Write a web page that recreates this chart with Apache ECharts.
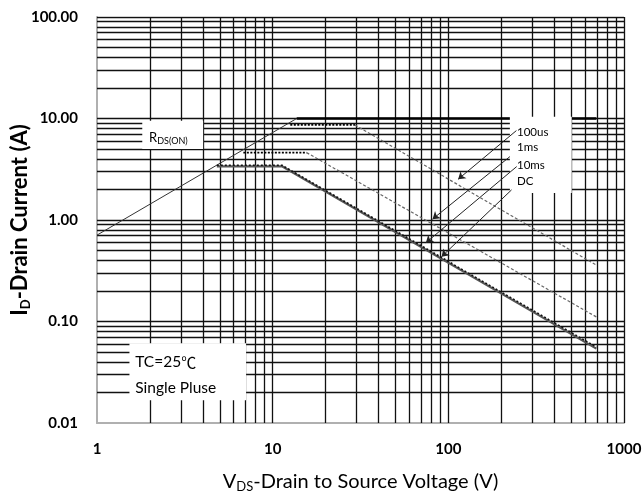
<!DOCTYPE html>
<html>
<head>
<meta charset="utf-8">
<script src="https://cdn.jsdelivr.net/npm/echarts@6/dist/echarts.min.js"></script>
<style>html,body{margin:0;padding:0;background:#fff}#c{width:643px;height:500px}</style>
</head>
<body>
<div id="c"></div>
<script>
// ---- data (V in volts, I in amperes) ----
const xTicks = [1, 10, 100, 1000];
const yTicks = [0.01, 0.1, 1, 10, 100];
const gridX = [2,3,4,5,6,7,8,9,10,20,30,40,50,60,70,80,90,100,200,300,400,500,600,700,800,900,1000];
const gridY = [0.02,0.03,0.04,0.05,0.06,0.07,0.08,0.09,0.1,0.2,0.3,0.4,0.5,0.6,0.7,0.8,0.9,1,2,3,4,5,6,7,8,9,10,20,30,40,50,60,70,80,90,100];
const rdsOn      = [[1, 0.71], [13.7, 10]];
const limit10    = [[13.7, 10], [696, 10]];
const us100Flat  = [[12.6, 8.65], [29.4, 8.65]];
const us100Slope = [[29.4, 8.65], [696, 0.36]];
const ms1Flat    = [[6.81, 4.61], [15.6, 4.61]];
const ms1Slope   = [[15.6, 4.61], [696, 0.111]];
const ms10       = [[4.81, 3.46], [11.3, 3.46], [696, 0.056]];
const dc         = [[4.81, 3.38], [11.3, 3.38], [696, 0.054]];
// arrows: [from, to]
const arrows = [
  [[244, 7.6], [113.7, 2.52]],
  [[224, 4.21], [81.3, 1.02]],
  [[245, 3.36], [74.5, 0.597]],
  [[229, 1.98], [91.5, 0.435]]
];
// white label boxes: [x1, y1, x2, y2]
const boxes = [
  [1.81, 9.48, 4.02, 5.02],
  [224, 10.4, 504, 1.85],
  [1.53, 0.061, 7.06, 0.0168]
];
const legendLabels = ['100us', '1ms', '10ms', 'DC'];
const legendPos = [[246, 7.33], [246, 5.22], [246, 3.49], [246, 2.39]];

// ---- build ----
const FONT = 'Lato';
const gridSegs = [];
gridX.forEach(v => gridSegs.push({coords: [[v, 0.01], [v, 100]]}));
gridY.forEach(v => gridSegs.push({coords: [[1, v], [1000, v]]}));

const textPoints = [
  {coord: [1.98, 6.44], label: {formatter: '{m|R}{s|DS(ON)}'}},
  {coord: [1.65, 0.040], label: {formatter: '{b|TC=25}{c|℃}'}},
  {coord: [1.65, 0.022], label: {formatter: '{b|Single Pluse}'}}
];
legendLabels.forEach((t, i) => textPoints.push({coord: legendPos[i], label: {formatter: '{l|' + t + '}'}}));

function line(data, style) {
  return {type: 'line', z: 3, silent: true, data: data, symbol: 'none', lineStyle: style};
}

const chart = echarts.init(document.getElementById('c'));
chart.setOption({
  animation: false,
  backgroundColor: '#fff',
  grid: {left: 97, right: 19, top: 17, bottom: 77, containLabel: false, outerBoundsMode: 'none'},
  xAxis: {
    type: 'log', logBase: 10, min: 1, max: 1000, splitNumber: 3,
    axisLine: {show: true, lineStyle: {color: '#b0b0b0', width: 2}},
    axisTick: {show: false},
    splitLine: {show: false},
    axisLabel: {color: '#000', fontFamily: FONT, fontWeight: 'bold', fontSize: 15, margin: 19,
      formatter: v => String(Math.round(v))},
    name: '{m|V}{s|DS}{m|-Drain to Source Voltage (V)}',
    nameLocation: 'middle', nameGap: 47, nameMoveOverlap: false,
    nameTextStyle: {rich: {
      m: {fontFamily: FONT, fontSize: 20, color: '#000', fontWeight: 'normal'},
      s: {fontFamily: FONT, fontSize: 13, color: '#000', padding: [10, 0, 0, 0]}
    }}
  },
  yAxis: {
    type: 'log', logBase: 10, min: 0.01, max: 100, splitNumber: 4,
    axisLine: {show: true, lineStyle: {color: '#b0b0b0', width: 2}},
    axisTick: {show: false},
    splitLine: {show: false},
    axisLabel: {color: '#000', fontFamily: FONT, fontWeight: 'bold', fontSize: 15, margin: 19,
      formatter: v => Number(v).toFixed(2)},
    name: '{m|I}{s|D}{m|-Drain Current (A)}',
    nameLocation: 'middle', nameGap: 65, nameMoveOverlap: false,
    nameTextStyle: {rich: {
      m: {fontFamily: FONT, fontSize: 22, color: '#000', fontWeight: 'bold'},
      s: {fontFamily: FONT, fontSize: 13, color: '#000', fontWeight: 'bold', padding: [11, 0, 0, 0]}
    }}
  },
  series: [
    {
      type: 'lines', coordinateSystem: 'cartesian2d', z: 1, silent: true,
      data: gridSegs, symbol: 'none',
      lineStyle: {color: '#111', width: 1.3, opacity: 1}
    },
    line(rdsOn, {color: '#333', width: 1}),
    line(limit10, {color: '#000', width: 2.5}),
    line(us100Slope, {color: '#666', width: 1.2, type: [3, 2]}),
    line(us100Flat, {color: '#000', width: 1.8, type: [2, 1.5]}),
    line(ms1Slope, {color: '#666', width: 1.2, type: [3, 2]}),
    line(ms1Flat, {color: '#000', width: 1.8, type: [2, 1.5]}),
    line(dc, {color: '#555', width: 2.2}),
    line(ms10, {color: '#111', width: 1.6, type: [2, 2]}),
    {
      type: 'custom', z: 3.5, silent: true,
      data: boxes, encode: {x: [0, 2], y: [1, 3]},
      renderItem: (params, api) => {
        const a = api.coord([api.value(0), api.value(1)]);
        const b = api.coord([api.value(2), api.value(3)]);
        return {type: 'rect', shape: {x: Math.min(a[0], b[0]), y: Math.min(a[1], b[1]),
          width: Math.abs(b[0] - a[0]), height: Math.abs(b[1] - a[1])}, style: {fill: '#fff'}};
      },
      markPoint: {
        symbol: 'circle', symbolSize: 0, silent: true,
        label: {show: true, position: 'inside', align: 'left', verticalAlign: 'middle', padding: 0, color: '#000',
          rich: {
            m: {fontFamily: FONT, fontSize: 13, color: '#000'},
            s: {fontFamily: FONT, fontSize: 9, color: '#000', padding: [7, 0, 0, 0]},
            b: {fontFamily: FONT, fontSize: 15.5, color: '#000'},
            c: {fontFamily: '"Noto Sans CJK SC"', fontSize: 15, color: '#000'},
            l: {fontFamily: FONT, fontSize: 11.5, color: '#000'}
          }},
        data: textPoints
      }
    },
    {
      type: 'lines', coordinateSystem: 'cartesian2d', z: 4, silent: true,
      data: arrows.map(a => ({coords: a})),
      symbol: ['none', 'arrow'], symbolSize: 7,
      lineStyle: {color: '#222', width: 1, opacity: 1}
    }
  ]
});
</script>
</body>
</html>
